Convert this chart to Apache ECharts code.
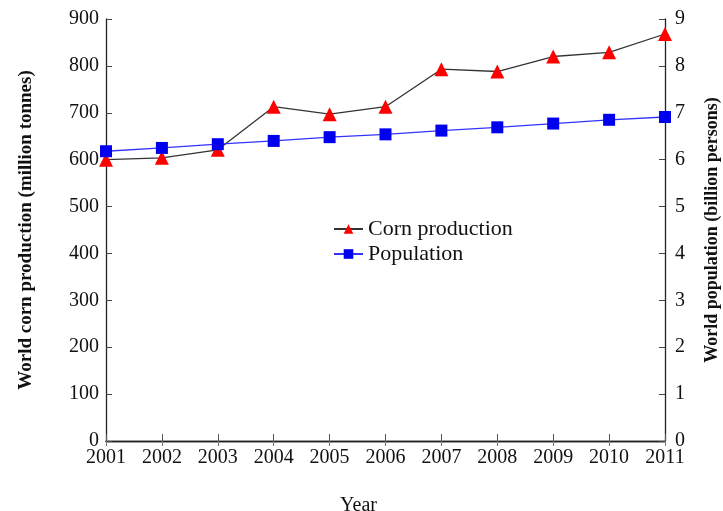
<!DOCTYPE html>
<html>
<head>
<meta charset="utf-8">
<script src="https://cdn.jsdelivr.net/npm/echarts@6/dist/echarts.min.js"></script>
<style>
  html, body { margin: 0; padding: 0; background: #fff; }
  #chart { width: 723px; height: 511px; }
</style>
</head>
<body>
<div id="chart"></div>
<script>
  const years = ['2001', '2002', '2003', '2004', '2005', '2006', '2007', '2008', '2009', '2010', '2011'];
  // million tonnes
  const cornProduction = [600, 604, 621, 713, 697, 713, 793, 788, 820, 829, 868];
  // billion persons
  const population = [6.18, 6.25, 6.33, 6.40, 6.48, 6.54, 6.62, 6.69, 6.77, 6.85, 6.91];

  const serif = '"Liberation Serif", "DejaVu Serif", serif';
  const axisLineStyle = { color: '#222', width: 1.3 };

  const chart = echarts.init(document.getElementById('chart'), null, { renderer: 'canvas' });

  chart.setOption({
    animation: false,
    textStyle: { fontFamily: serif },
    grid: { left: 106, right: 58, top: 19, bottom: 70, outerBoundsMode: 'none', containLabel: false },
    legend: {
      left: 328,
      top: 213,
      orient: 'vertical',
      itemGap: 3,
      itemWidth: 29,
      itemHeight: 12,
      textStyle: { fontFamily: serif, fontSize: 22, color: '#111' },
      data: ['Corn production', 'Population']
    },
    xAxis: [
      {
        type: 'category',
        data: years,
        boundaryGap: false,
        name: 'Year',
        nameLocation: 'middle',
        nameGap: 55,
        // label sits a little left of centre in the original
        nameTextStyle: { fontFamily: serif, fontSize: 20, color: '#111', padding: [0, 54, 0, 0] },
        axisLine: { lineStyle: axisLineStyle },
        axisTick: { inside: true, length: 7, lineStyle: { color: '#555' } },
        axisLabel: { fontFamily: serif, fontSize: 20, color: '#111', margin: 7 },
        splitLine: { show: false }
      },
      {
        type: 'category',
        data: years,
        boundaryGap: false,
        position: 'top',
        axisLine: { lineStyle: axisLineStyle },
        axisTick: { inside: true, length: 5, lineStyle: { color: '#777' } },
        axisLabel: { show: false },
        splitLine: { show: false }
      }
    ],
    yAxis: [
      {
        type: 'value',
        min: 0,
        max: 900,
        interval: 100,
        name: 'World corn production (million tonnes)',
        nameLocation: 'middle',
        nameGap: 70,
        nameTextStyle: { fontFamily: serif, fontSize: 19, fontWeight: 'bold', color: '#111' },
        axisLine: { show: true, lineStyle: axisLineStyle },
        axisTick: { show: true, inside: true, length: 6, lineStyle: { color: '#444' } },
        axisLabel: { fontFamily: serif, fontSize: 20, color: '#111', margin: 7 },
        splitLine: { show: false }
      },
      {
        type: 'value',
        min: 0,
        max: 9,
        interval: 1,
        position: 'right',
        name: 'World population (billion persons)',
        nameLocation: 'middle',
        nameGap: 38,
        nameRotate: 90,
        nameTextStyle: { fontFamily: serif, fontSize: 18, fontWeight: 'bold', color: '#111' },
        axisLine: { show: true, lineStyle: axisLineStyle },
        axisTick: { show: true, inside: true, length: 6, lineStyle: { color: '#444' } },
        axisLabel: { fontFamily: serif, fontSize: 20, color: '#111', margin: 10 },
        splitLine: { show: false }
      }
    ],
    series: [
      {
        name: 'Corn production',
        type: 'line',
        data: cornProduction,
        yAxisIndex: 0,
        symbol: 'triangle',
        symbolSize: 14,
        lineStyle: { color: '#333', width: 1.3 },
        itemStyle: { color: '#ff0000' }
      },
      {
        name: 'Population',
        type: 'line',
        data: population,
        yAxisIndex: 1,
        symbol: 'rect',
        symbolSize: 12,
        lineStyle: { color: '#3333ff', width: 1.3 },
        itemStyle: { color: '#0000ee' }
      }
    ]
  });
</script>
</body>
</html>
